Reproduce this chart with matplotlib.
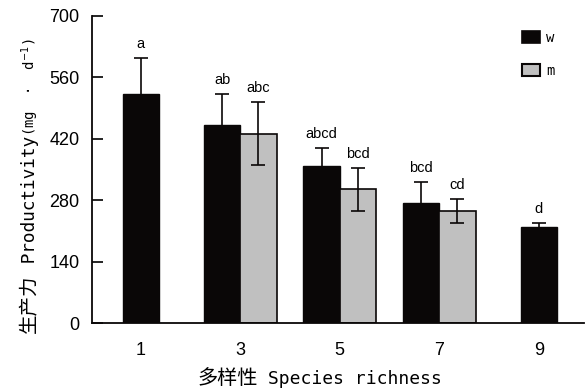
import numpy as np
import matplotlib
matplotlib.use("Agg")
import matplotlib.pyplot as plt
from matplotlib.patches import Patch

richness = [1, 3, 5, 7, 9]
w_mean = [522, 452, 358, 274, 219]
w_err = [83, 70, 41, 48, 10]
m_mean = [np.nan, 432, 305, 255, np.nan]
m_err = [np.nan, 72, 49, 28, np.nan]
w_letters = ["a", "ab", "abcd", "bcd", "d"]
m_letters = ["", "abc", "bcd", "cd", ""]
yticks = [0, 140, 280, 420, 560, 700]
series = ["w", "m"]

BLACK = "#0a0707"
GRAY = "#c0c0c0"
MONO = ["DejaVu Sans Mono", "Noto Sans CJK SC"]
CJK = ["Noto Sans CJK SC", "DejaVu Sans"]

W, H = 585, 390
fig = plt.figure(figsize=(W / 100, H / 100), dpi=100)
ax = fig.add_axes([92 / W, 1 - 323 / H, (584 - 92) / W, (323 - 16) / H])

width = 0.73
ekw = dict(ecolor=BLACK, elinewidth=1.2, capsize=5, capthick=1.2)
for i, x in enumerate(richness):
    has_m = not np.isnan(m_mean[i])
    xw = x - width / 2 if has_m else x
    ax.bar(xw, w_mean[i], width=width, color=BLACK, edgecolor=BLACK, linewidth=1.0,
           yerr=w_err[i], error_kw=ekw, zorder=2)
    ax.annotate(w_letters[i], (xw, w_mean[i] + w_err[i]), xytext=(0, 5),
                textcoords="offset points", ha="center", va="bottom",
                fontsize=10.5, family="Liberation Sans")
    if has_m:
        xm = x + width / 2
        ax.bar(xm, m_mean[i], width=width, color=GRAY, edgecolor=BLACK, linewidth=1.2,
               yerr=m_err[i], error_kw=ekw, zorder=2)
        ax.annotate(m_letters[i], (xm, m_mean[i] + m_err[i]), xytext=(0, 5),
                    textcoords="offset points", ha="center", va="bottom",
                    fontsize=10.5, family="Liberation Sans")

ax.set_xlim(0.02, 9.91)
ax.set_ylim(0, 700)
ax.set_yticks(yticks)
ax.set_xticks(richness)
ax.set_xticklabels([str(r) for r in richness], family="Liberation Sans", fontsize=13)
ax.set_yticklabels([str(t) for t in yticks], family="Liberation Sans", fontsize=13)
ax.tick_params(axis="y", direction="in", length=8, width=1.2, pad=9)
ax.tick_params(axis="x", length=0, pad=14)
for s in ["top", "right"]:
    ax.spines[s].set_visible(False)
for s in ["left", "bottom"]:
    ax.spines[s].set_linewidth(1.3)
    ax.spines[s].set_color(BLACK)


def chain(pieces, x0, y0, rotation):
    """Place text pieces one after another (display pixel coords, y up)."""
    x, y = x0, y0
    for txt, fam, size in pieces:
        t = fig.text(x, y, txt, family=fam, fontsize=size, rotation=rotation,
                     rotation_mode="anchor", ha="left", va="baseline", transform=None)
        fig.canvas.draw()
        bb = t.get_window_extent()
        if rotation == 0:
            x = bb.x1
        else:
            y = bb.y1


# x label
chain([("多样性", CJK, 14.5), (" Species richness", MONO, 13)], 197, H - 384, 0)
# y label
chain([("生产力", CJK, 14), (" Productivity", MONO, 12.8),
       ("(mg  ·  d$^{-1}$)", MONO, 10)], 35, H - 333, 90)

handles = [Patch(facecolor=BLACK, edgecolor=BLACK, linewidth=1.2),
           Patch(facecolor=GRAY, edgecolor=BLACK, linewidth=1.5)]
leg = fig.legend(handles, series, loc="upper left",
                 bbox_to_anchor=(522 / W, 1 - 31 / H), bbox_transform=fig.transFigure,
                 frameon=False, borderpad=0, borderaxespad=0,
                 handlelength=1.3, handleheight=1.0, handletextpad=0.45,
                 labelspacing=1.35, prop={"family": "DejaVu Sans Mono", "size": 10})

fig.savefig("out.png", dpi=100)
